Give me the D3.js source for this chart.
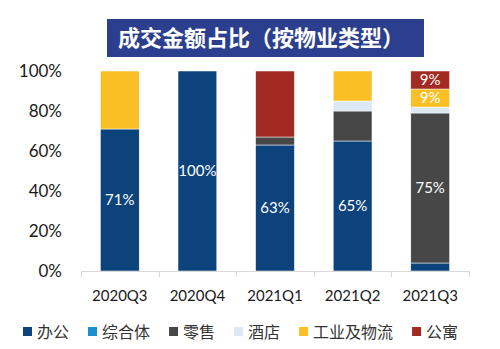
<!DOCTYPE html>
<html>
<head>
<meta charset="utf-8">
<script src="https://cdn.jsdelivr.net/npm/d3@7"></script>
<style>
  body { margin: 0; background: #fff; }
  svg { display: block; }
</style>
</head>
<body>
<div id="chart"></div>
<script>
// quarters and property types
const quarters = ["2020Q3", "2020Q4", "2021Q1", "2021Q2", "2021Q3"];
const types = ["办公", "综合体", "零售", "酒店", "工业及物流", "公寓"];
const typeColors = ["#0c437c", "#1b8fd2", "#474747", "#dce8f3", "#fbbf26", "#a32a22"];

// share of deal value (%) per type, one value per quarter
const office    = [71, 100, 63, 65, 4];
const complex   = [0, 0, 0, 0, 0];
const retail    = [0, 0, 4, 15, 75];
const hotel     = [0, 0, 0, 5, 3];
const logistics = [29, 0, 0, 15, 9];
const apartment = [0, 0, 33, 0, 9];

// which segments carry a value label
const labelled = {
  "办公": [true, true, true, true, false],
  "零售": [false, false, false, false, true],
  "工业及物流": [false, false, false, false, true],
  "公寓": [false, false, false, false, true]
};

const yTicks = [0, 20, 40, 60, 80, 100];

const W = 500, H = 349;
const margin = {top: 71, right: 31, bottom: 78, left: 81};
const latin = "Lato, 'Noto Sans', sans-serif";
const cjk = "'Noto Sans CJK SC', 'Noto Sans', sans-serif";

const rows = quarters.map((q, i) => ({
  quarter: q,
  "办公": office[i], "综合体": complex[i], "零售": retail[i],
  "酒店": hotel[i], "工业及物流": logistics[i], "公寓": apartment[i]
}));

const svg = d3.select("#chart").append("svg")
  .attr("width", W).attr("height", H);

// title banner
const title = svg.append("g");
title.append("rect")
  .attr("x", 107).attr("y", 19).attr("width", 317).attr("height", 38)
  .attr("fill", "#2b3f8e");
title.append("text")
  .attr("x", 261).attr("y", 46)
  .attr("text-anchor", "middle")
  .attr("fill", "#fff")
  .style("font-family", cjk)
  .style("font-weight", "bold")
  .style("font-size", "22px")
  .text("成交金额占比（按物业类型）");

const x = d3.scaleBand()
  .domain(quarters)
  .range([margin.left, W - margin.right])
  .paddingInner(0.5).paddingOuter(0.25);

const y = d3.scaleLinear()
  .domain([0, 100])
  .range([H - margin.bottom, margin.top]);

const color = d3.scaleOrdinal().domain(types).range(typeColors);

const stacked = d3.stack().keys(types)(rows);

// bars
const layers = svg.append("g").selectAll("g")
  .data(stacked)
  .enter().append("g")
  .attr("fill", d => color(d.key));

layers.selectAll("rect")
  .data(d => d.map((v, i) => ({key: d.key, i: i, y0: v[0], y1: v[1]})))
  .enter().append("rect")
  .filter(d => d.y1 > d.y0)
  .attr("x", d => x(quarters[d.i]))
  .attr("width", x.bandwidth())
  .attr("y", d => y(d.y1))
  .attr("height", d => y(d.y0) - y(d.y1))
  .attr("stroke", "#fff")
  .attr("stroke-width", 0.5);

// value labels
const labels = [];
stacked.forEach(layer => {
  const flags = labelled[layer.key];
  if (!flags) return;
  layer.forEach((v, i) => {
    if (flags[i]) labels.push({i: i, mid: (v[0] + v[1]) / 2, value: v[1] - v[0]});
  });
});

svg.append("g").selectAll("text")
  .data(labels)
  .enter().append("text")
  .attr("x", d => x(quarters[d.i]) + x.bandwidth() / 2)
  .attr("y", d => y(d.mid))
  .attr("dy", "0.36em")
  .attr("text-anchor", "middle")
  .attr("fill", "#fff")
  .style("font-family", latin)
  .style("font-size", "15px")
  .text(d => d.value + "%");

// x axis: light baseline with ticks between categories
const axisY = y(0);
const xAxis = svg.append("g");
xAxis.append("line")
  .attr("x1", margin.left).attr("x2", W - margin.right)
  .attr("y1", axisY + 0.5).attr("y2", axisY + 0.5)
  .attr("stroke", "#d9d9d9");
const step = x.step();
xAxis.selectAll("line.tick")
  .data(d3.range(quarters.length + 1))
  .enter().append("line")
  .attr("class", "tick")
  .attr("x1", i => Math.round(margin.left + i * (W - margin.left - margin.right) / quarters.length) + 0.5)
  .attr("x2", i => Math.round(margin.left + i * (W - margin.left - margin.right) / quarters.length) + 0.5)
  .attr("y1", axisY).attr("y2", axisY + 6)
  .attr("stroke", "#d9d9d9");
xAxis.selectAll("text")
  .data(quarters)
  .enter().append("text")
  .attr("x", d => x(d) + x.bandwidth() / 2)
  .attr("y", 301)
  .attr("text-anchor", "middle")
  .attr("fill", "#1a1a1a")
  .style("font-family", latin)
  .style("font-size", "15px")
  .text(d => d);

// y axis labels, no line
svg.append("g").selectAll("text")
  .data(yTicks)
  .enter().append("text")
  .attr("x", 62)
  .attr("y", d => y(d))
  .attr("dy", "0.36em")
  .attr("text-anchor", "end")
  .attr("fill", "#1a1a1a")
  .style("font-family", latin)
  .style("font-size", "17px")
  .text(d => d + "%");

// legend
const legend = svg.append("g").attr("transform", "translate(0, 332)");
const items = legend.selectAll("g")
  .data(types)
  .enter().append("g");
items.append("rect")
  .attr("x", 0).attr("y", -5)
  .attr("width", 9).attr("height", 9)
  .attr("fill", d => color(d));
items.append("text")
  .attr("x", 14)
  .attr("dy", "0.36em")
  .attr("fill", "#333")
  .style("font-family", cjk)
  .style("font-size", "16px")
  .text(d => d);

let lx = 23;
items.each(function() {
  d3.select(this).attr("transform", `translate(${lx}, 0)`);
  lx += 14 + this.querySelector("text").getComputedTextLength() + 19;
});
</script>
</body>
</html>
